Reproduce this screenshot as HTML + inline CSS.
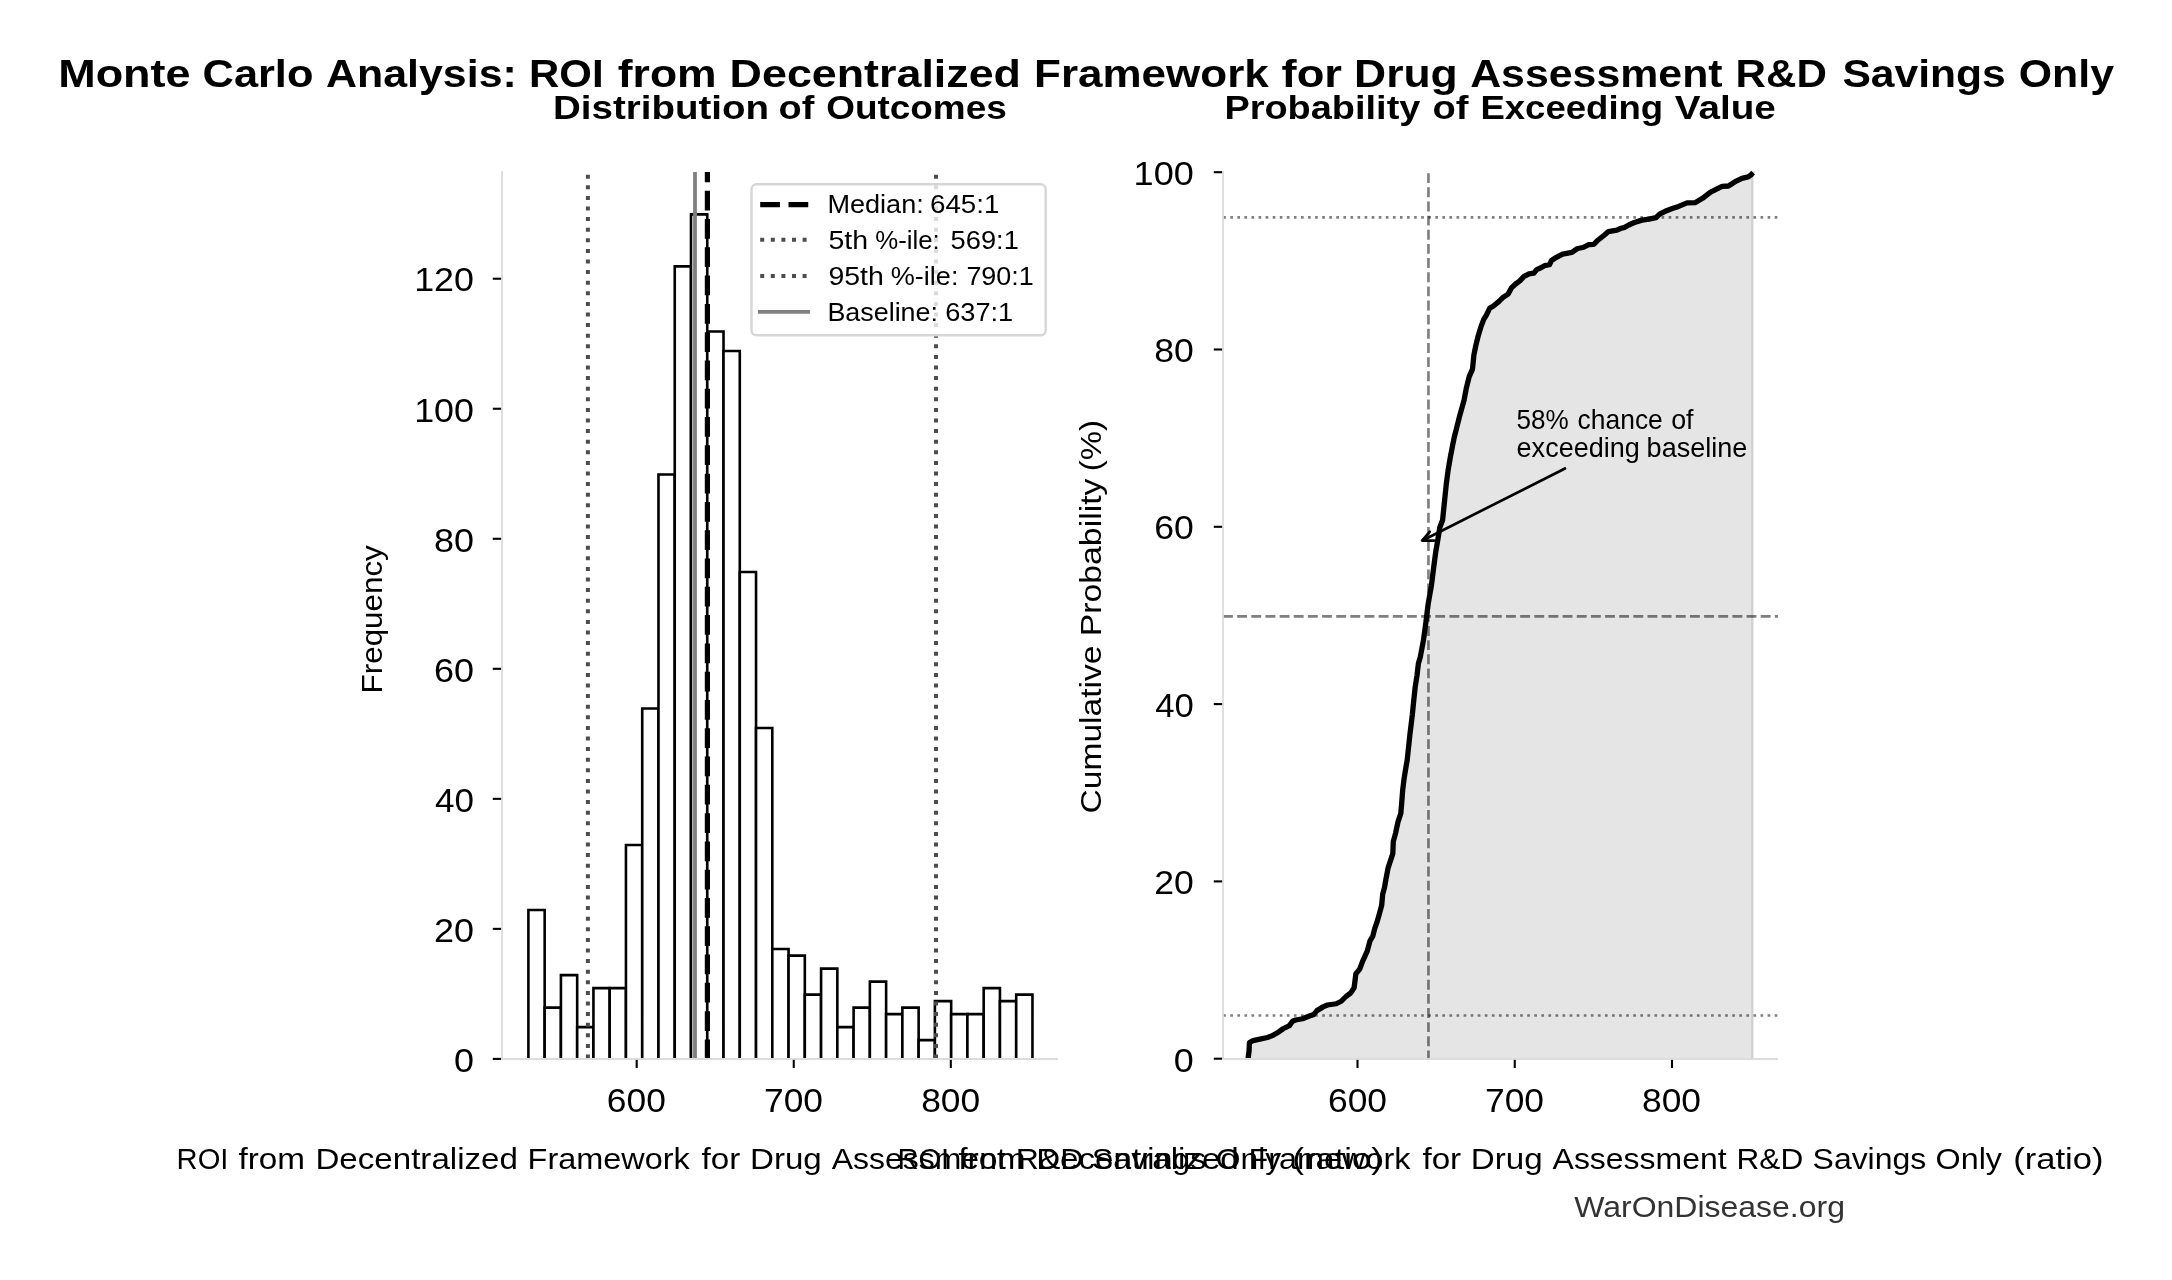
<!DOCTYPE html>
<html><head><meta charset="utf-8"><style>
html,body{margin:0;padding:0;background:#fff;width:2172px;height:1280px;overflow:hidden}
svg{display:block;will-change:transform}
text{font-family:"Liberation Sans",sans-serif}
</style></head><body>
<svg width="2172" height="1280" viewBox="0 0 2172 1280">
<rect width="2172" height="1280" fill="#fff"/>
<defs><clipPath id="cl"><rect x="490" y="150" width="580" height="908.3"/></clipPath><clipPath id="cr"><rect x="1223" y="150" width="560" height="908.3"/></clipPath></defs>
<g clip-path="url(#cl)">
<path d="M528.40,1060 V910.07 H544.66 V1060" fill="#fff" stroke="#000" stroke-width="2.6" stroke-linejoin="miter"/>
<path d="M544.66,1060 V1007.59 H560.92 V1060" fill="#fff" stroke="#000" stroke-width="2.6" stroke-linejoin="miter"/>
<path d="M560.92,1060 V975.08 H577.18 V1060" fill="#fff" stroke="#000" stroke-width="2.6" stroke-linejoin="miter"/>
<path d="M577.18,1060 V1027.09 H593.44 V1060" fill="#fff" stroke="#000" stroke-width="2.6" stroke-linejoin="miter"/>
<path d="M593.44,1060 V988.08 H609.70 V1060" fill="#fff" stroke="#000" stroke-width="2.6" stroke-linejoin="miter"/>
<path d="M609.70,1060 V988.08 H625.96 V1060" fill="#fff" stroke="#000" stroke-width="2.6" stroke-linejoin="miter"/>
<path d="M625.96,1060 V845.05 H642.22 V1060" fill="#fff" stroke="#000" stroke-width="2.6" stroke-linejoin="miter"/>
<path d="M642.22,1060 V708.52 H658.48 V1060" fill="#fff" stroke="#000" stroke-width="2.6" stroke-linejoin="miter"/>
<path d="M658.48,1060 V474.46 H674.74 V1060" fill="#fff" stroke="#000" stroke-width="2.6" stroke-linejoin="miter"/>
<path d="M674.74,1060 V266.42 H691.00 V1060" fill="#fff" stroke="#000" stroke-width="2.6" stroke-linejoin="miter"/>
<path d="M691.00,1060 V214.40 H707.26 V1060" fill="#fff" stroke="#000" stroke-width="2.6" stroke-linejoin="miter"/>
<path d="M707.26,1060 V331.43 H723.52 V1060" fill="#fff" stroke="#000" stroke-width="2.6" stroke-linejoin="miter"/>
<path d="M723.52,1060 V350.94 H739.78 V1060" fill="#fff" stroke="#000" stroke-width="2.6" stroke-linejoin="miter"/>
<path d="M739.78,1060 V571.99 H756.04 V1060" fill="#fff" stroke="#000" stroke-width="2.6" stroke-linejoin="miter"/>
<path d="M756.04,1060 V728.02 H772.30 V1060" fill="#fff" stroke="#000" stroke-width="2.6" stroke-linejoin="miter"/>
<path d="M772.30,1060 V949.07 H788.56 V1060" fill="#fff" stroke="#000" stroke-width="2.6" stroke-linejoin="miter"/>
<path d="M788.56,1060 V955.58 H804.82 V1060" fill="#fff" stroke="#000" stroke-width="2.6" stroke-linejoin="miter"/>
<path d="M804.82,1060 V994.58 H821.08 V1060" fill="#fff" stroke="#000" stroke-width="2.6" stroke-linejoin="miter"/>
<path d="M821.08,1060 V968.58 H837.34 V1060" fill="#fff" stroke="#000" stroke-width="2.6" stroke-linejoin="miter"/>
<path d="M837.34,1060 V1027.09 H853.60 V1060" fill="#fff" stroke="#000" stroke-width="2.6" stroke-linejoin="miter"/>
<path d="M853.60,1060 V1007.59 H869.86 V1060" fill="#fff" stroke="#000" stroke-width="2.6" stroke-linejoin="miter"/>
<path d="M869.86,1060 V981.58 H886.12 V1060" fill="#fff" stroke="#000" stroke-width="2.6" stroke-linejoin="miter"/>
<path d="M886.12,1060 V1014.09 H902.38 V1060" fill="#fff" stroke="#000" stroke-width="2.6" stroke-linejoin="miter"/>
<path d="M902.38,1060 V1007.59 H918.64 V1060" fill="#fff" stroke="#000" stroke-width="2.6" stroke-linejoin="miter"/>
<path d="M918.64,1060 V1040.10 H934.90 V1060" fill="#fff" stroke="#000" stroke-width="2.6" stroke-linejoin="miter"/>
<path d="M934.90,1060 V1001.09 H951.16 V1060" fill="#fff" stroke="#000" stroke-width="2.6" stroke-linejoin="miter"/>
<path d="M951.16,1060 V1014.09 H967.42 V1060" fill="#fff" stroke="#000" stroke-width="2.6" stroke-linejoin="miter"/>
<path d="M967.42,1060 V1014.09 H983.68 V1060" fill="#fff" stroke="#000" stroke-width="2.6" stroke-linejoin="miter"/>
<path d="M983.68,1060 V988.08 H999.94 V1060" fill="#fff" stroke="#000" stroke-width="2.6" stroke-linejoin="miter"/>
<path d="M999.94,1060 V1001.09 H1016.20 V1060" fill="#fff" stroke="#000" stroke-width="2.6" stroke-linejoin="miter"/>
<path d="M1016.20,1060 V994.58 H1032.46 V1060" fill="#fff" stroke="#000" stroke-width="2.6" stroke-linejoin="miter"/>
<line x1="587.9" y1="1058.5" x2="587.9" y2="172" stroke="#4d4d4d" stroke-width="4.0" stroke-dasharray="4.0 6.6"/>
<line x1="936.0" y1="1058.5" x2="936.0" y2="172" stroke="#4d4d4d" stroke-width="4.0" stroke-dasharray="4.0 6.6"/>
<line x1="695.0" y1="1060" x2="695.0" y2="172" stroke="#808080" stroke-width="3.8"/>
<line x1="707.4" y1="1059.2" x2="707.4" y2="172" stroke="#000" stroke-width="5.2" stroke-dasharray="19.75 8.54"/>
</g>
<line x1="502.0" y1="171.0" x2="502.0" y2="1059.0" stroke="#dcdcdc" stroke-width="1.8"/>
<line x1="502.0" y1="1059.0" x2="1058.0" y2="1059.0" stroke="#dcdcdc" stroke-width="1.8"/>
<line x1="492.8" y1="1058.90" x2="501.1" y2="1058.90" stroke="#000" stroke-width="2.1"/>
<line x1="492.8" y1="928.87" x2="501.1" y2="928.87" stroke="#000" stroke-width="2.1"/>
<line x1="492.8" y1="798.84" x2="501.1" y2="798.84" stroke="#000" stroke-width="2.1"/>
<line x1="492.8" y1="668.81" x2="501.1" y2="668.81" stroke="#000" stroke-width="2.1"/>
<line x1="492.8" y1="538.78" x2="501.1" y2="538.78" stroke="#000" stroke-width="2.1"/>
<line x1="492.8" y1="408.75" x2="501.1" y2="408.75" stroke="#000" stroke-width="2.1"/>
<line x1="492.8" y1="278.72" x2="501.1" y2="278.72" stroke="#000" stroke-width="2.1"/>
<line x1="636.70" y1="1059.9" x2="636.70" y2="1068.0" stroke="#000" stroke-width="2.1"/>
<line x1="793.75" y1="1059.9" x2="793.75" y2="1068.0" stroke="#000" stroke-width="2.1"/>
<line x1="950.80" y1="1059.9" x2="950.80" y2="1068.0" stroke="#000" stroke-width="2.1"/>
<rect x="751.5" y="184.3" width="294.2" height="151" rx="5" ry="5" fill="#fff" fill-opacity="0.8" stroke="#d6d6d6" stroke-width="2.4"/>
<line x1="760.2" y1="204.6" x2="808.8" y2="204.6" stroke="#000" stroke-width="5.3" stroke-dasharray="19.75 8.54"/>
<line x1="760.2" y1="239.7" x2="808.8" y2="239.7" stroke="#4d4d4d" stroke-width="4.0" stroke-dasharray="4.0 6.6"/>
<line x1="760.2" y1="276" x2="808.8" y2="276" stroke="#4d4d4d" stroke-width="4.0" stroke-dasharray="4.0 6.6"/>
<line x1="758" y1="311.9" x2="810" y2="311.9" stroke="#808080" stroke-width="3.8"/>
<g clip-path="url(#cr)">
<polygon points="1248.10,1058.60 1249.10,1050.60 1249.40,1042.50 1253.10,1040.60 1258.75,1039.40 1267.50,1037.50 1273.10,1035.30 1278.75,1031.90 1283.10,1028.75 1289.40,1025.60 1292.50,1021.25 1295.60,1020.00 1302.50,1018.75 1308.75,1016.25 1313.75,1014.40 1316.90,1010.60 1323.10,1006.90 1327.50,1005.00 1336.25,1003.75 1341.25,1001.25 1346.25,996.25 1350.60,993.10 1354.10,987.80 1355.90,973.70 1359.70,969.10 1362.50,961.60 1367.20,951.20 1370.00,940.90 1372.80,936.20 1374.70,928.70 1377.00,922.20 1379.40,913.70 1381.70,905.30 1382.70,894.10 1384.50,887.50 1385.80,880.00 1388.10,867.80 1392.80,853.70 1393.30,841.60 1395.60,833.10 1398.00,821.90 1400.80,813.40 1401.70,803.10 1402.70,790.00 1404.10,778.70 1405.90,767.50 1407.20,760.00 1410.00,733.70 1412.30,715.00 1413.70,700.90 1415.20,686.90 1417.00,675.60 1418.40,663.40 1420.30,656.90 1423.50,640.00 1425.80,623.10 1428.10,604.40 1431.40,585.60 1433.75,566.90 1435.60,552.80 1438.00,538.75 1439.80,527.50 1442.60,520.00 1444.80,498.40 1446.25,484.40 1448.10,470.30 1450.50,456.25 1452.30,446.90 1454.20,437.50 1456.60,428.10 1459.40,416.90 1464.10,400.00 1466.40,387.80 1469.20,376.60 1472.50,369.10 1473.90,355.00 1475.80,345.60 1478.10,336.25 1480.90,326.90 1483.75,319.40 1486.10,315.60 1489.80,308.10 1493.10,306.25 1498.75,301.60 1502.50,297.80 1508.10,294.10 1511.40,287.90 1515.60,284.00 1519.80,280.90 1524.10,276.30 1529.00,273.80 1533.90,273.10 1536.70,269.60 1540.90,267.80 1544.50,265.70 1549.40,264.70 1551.50,260.50 1556.40,257.30 1562.70,254.10 1571.90,252.40 1577.50,248.50 1583.10,247.50 1588.70,244.60 1593.70,244.30 1597.20,240.80 1604.20,235.20 1608.40,231.60 1616.90,230.20 1620.40,228.50 1624.60,227.40 1628.80,225.00 1634.40,222.50 1642.00,220.10 1649.10,219.10 1656.10,217.65 1659.60,214.10 1665.20,211.30 1672.30,208.50 1678.60,206.40 1687.00,202.90 1695.50,202.60 1702.50,198.30 1710.20,192.30 1716.60,189.20 1722.20,186.40 1728.50,186.00 1736.20,181.10 1741.90,178.30 1748.20,176.90 1751.00,174.80 1753.10,172.70 1752.3,172.7 1752.3,1060 1248.1,1060" fill="#e5e5e5" stroke="#d1d1d1" stroke-width="2.3"/>
<line x1="1223.2" y1="1015.5" x2="1778.0" y2="1015.5" stroke="#000" stroke-opacity="0.5" stroke-width="2.67" stroke-dasharray="2.67 4.40"/>
<line x1="1223.2" y1="217.45" x2="1778.0" y2="217.45" stroke="#000" stroke-opacity="0.5" stroke-width="2.67" stroke-dasharray="2.67 4.40"/>
<line x1="1223.0" y1="616.45" x2="1778.0" y2="616.45" stroke="#000" stroke-opacity="0.5" stroke-width="2.67" stroke-dasharray="9.88 4.27"/>
<line x1="1428.45" y1="1060.4" x2="1428.45" y2="171.5" stroke="#000" stroke-opacity="0.5" stroke-width="2.67" stroke-dasharray="9.88 4.27"/>
<polyline points="1248.0,1062 1248.10,1058.60 1249.10,1050.60 1249.40,1042.50 1253.10,1040.60 1258.75,1039.40 1267.50,1037.50 1273.10,1035.30 1278.75,1031.90 1283.10,1028.75 1289.40,1025.60 1292.50,1021.25 1295.60,1020.00 1302.50,1018.75 1308.75,1016.25 1313.75,1014.40 1316.90,1010.60 1323.10,1006.90 1327.50,1005.00 1336.25,1003.75 1341.25,1001.25 1346.25,996.25 1350.60,993.10 1354.10,987.80 1355.90,973.70 1359.70,969.10 1362.50,961.60 1367.20,951.20 1370.00,940.90 1372.80,936.20 1374.70,928.70 1377.00,922.20 1379.40,913.70 1381.70,905.30 1382.70,894.10 1384.50,887.50 1385.80,880.00 1388.10,867.80 1392.80,853.70 1393.30,841.60 1395.60,833.10 1398.00,821.90 1400.80,813.40 1401.70,803.10 1402.70,790.00 1404.10,778.70 1405.90,767.50 1407.20,760.00 1410.00,733.70 1412.30,715.00 1413.70,700.90 1415.20,686.90 1417.00,675.60 1418.40,663.40 1420.30,656.90 1423.50,640.00 1425.80,623.10 1428.10,604.40 1431.40,585.60 1433.75,566.90 1435.60,552.80 1438.00,538.75 1439.80,527.50 1442.60,520.00 1444.80,498.40 1446.25,484.40 1448.10,470.30 1450.50,456.25 1452.30,446.90 1454.20,437.50 1456.60,428.10 1459.40,416.90 1464.10,400.00 1466.40,387.80 1469.20,376.60 1472.50,369.10 1473.90,355.00 1475.80,345.60 1478.10,336.25 1480.90,326.90 1483.75,319.40 1486.10,315.60 1489.80,308.10 1493.10,306.25 1498.75,301.60 1502.50,297.80 1508.10,294.10 1511.40,287.90 1515.60,284.00 1519.80,280.90 1524.10,276.30 1529.00,273.80 1533.90,273.10 1536.70,269.60 1540.90,267.80 1544.50,265.70 1549.40,264.70 1551.50,260.50 1556.40,257.30 1562.70,254.10 1571.90,252.40 1577.50,248.50 1583.10,247.50 1588.70,244.60 1593.70,244.30 1597.20,240.80 1604.20,235.20 1608.40,231.60 1616.90,230.20 1620.40,228.50 1624.60,227.40 1628.80,225.00 1634.40,222.50 1642.00,220.10 1649.10,219.10 1656.10,217.65 1659.60,214.10 1665.20,211.30 1672.30,208.50 1678.60,206.40 1687.00,202.90 1695.50,202.60 1702.50,198.30 1710.20,192.30 1716.60,189.20 1722.20,186.40 1728.50,186.00 1736.20,181.10 1741.90,178.30 1748.20,176.90 1751.00,174.80 1753.10,172.70" fill="none" stroke="#000" stroke-width="5.3" stroke-linejoin="round" stroke-linecap="butt"/>
</g>
<line x1="1223.0" y1="171.5" x2="1223.0" y2="1059.0" stroke="#dcdcdc" stroke-width="1.8"/>
<line x1="1223.0" y1="1059.0" x2="1778.0" y2="1059.0" stroke="#dcdcdc" stroke-width="1.8"/>
<line x1="1213.8" y1="1058.70" x2="1222.1" y2="1058.70" stroke="#000" stroke-width="2.1"/>
<line x1="1213.8" y1="881.40" x2="1222.1" y2="881.40" stroke="#000" stroke-width="2.1"/>
<line x1="1213.8" y1="704.10" x2="1222.1" y2="704.10" stroke="#000" stroke-width="2.1"/>
<line x1="1213.8" y1="526.80" x2="1222.1" y2="526.80" stroke="#000" stroke-width="2.1"/>
<line x1="1213.8" y1="349.50" x2="1222.1" y2="349.50" stroke="#000" stroke-width="2.1"/>
<line x1="1213.8" y1="172.20" x2="1222.1" y2="172.20" stroke="#000" stroke-width="2.1"/>
<line x1="1357.50" y1="1059.9" x2="1357.50" y2="1068.0" stroke="#000" stroke-width="2.1"/>
<line x1="1514.75" y1="1059.9" x2="1514.75" y2="1068.0" stroke="#000" stroke-width="2.1"/>
<line x1="1672.00" y1="1059.9" x2="1672.00" y2="1068.0" stroke="#000" stroke-width="2.1"/>
<line x1="1565" y1="468.5" x2="1423" y2="540.2" stroke="#000" stroke-width="2.67" stroke-linecap="round"/>
<polyline points="1429.8,531.7 1422.1,540.6 1434.2,540.6" fill="none" stroke="#000" stroke-width="2.67" stroke-linecap="round" stroke-linejoin="round"/>
<text x="58.2" y="86.9" font-size="39.2" font-weight="bold" fill="#000" textLength="132.4" lengthAdjust="spacingAndGlyphs">Monte</text>
<text x="202.6" y="86.9" font-size="39.2" font-weight="bold" fill="#000" textLength="110.8" lengthAdjust="spacingAndGlyphs">Carlo</text>
<text x="326.0" y="86.9" font-size="39.2" font-weight="bold" fill="#000" textLength="190.8" lengthAdjust="spacingAndGlyphs">Analysis:</text>
<text x="529.0" y="86.9" font-size="39.2" font-weight="bold" fill="#000" textLength="74.6" lengthAdjust="spacingAndGlyphs">ROI</text>
<text x="617.8" y="86.9" font-size="39.2" font-weight="bold" fill="#000" textLength="98.8" lengthAdjust="spacingAndGlyphs">from</text>
<text x="729.6" y="86.9" font-size="39.2" font-weight="bold" fill="#000" textLength="291.4" lengthAdjust="spacingAndGlyphs">Decentralized</text>
<text x="1034.0" y="86.9" font-size="39.2" font-weight="bold" fill="#000" textLength="234.8" lengthAdjust="spacingAndGlyphs">Framework</text>
<text x="1281.6" y="86.9" font-size="39.2" font-weight="bold" fill="#000" textLength="60.4" lengthAdjust="spacingAndGlyphs">for</text>
<text x="1354.0" y="86.9" font-size="39.2" font-weight="bold" fill="#000" textLength="103.8" lengthAdjust="spacingAndGlyphs">Drug</text>
<text x="1470.2" y="86.9" font-size="39.2" font-weight="bold" fill="#000" textLength="252.4" lengthAdjust="spacingAndGlyphs">Assessment</text>
<text x="1735.6" y="86.9" font-size="39.2" font-weight="bold" fill="#000" textLength="91.4" lengthAdjust="spacingAndGlyphs">R&amp;D</text>
<text x="1842.4" y="86.9" font-size="39.2" font-weight="bold" fill="#000" textLength="163.4" lengthAdjust="spacingAndGlyphs">Savings</text>
<text x="2018.8" y="86.9" font-size="39.2" font-weight="bold" fill="#000" textLength="95.2" lengthAdjust="spacingAndGlyphs">Only</text>
<text x="553.0" y="119.3" font-size="32.7" font-weight="bold" fill="#000" textLength="216.0" lengthAdjust="spacingAndGlyphs">Distribution</text>
<text x="778.6" y="119.3" font-size="32.7" font-weight="bold" fill="#000" textLength="35.8" lengthAdjust="spacingAndGlyphs">of</text>
<text x="826.2" y="119.3" font-size="32.7" font-weight="bold" fill="#000" textLength="180.6" lengthAdjust="spacingAndGlyphs">Outcomes</text>
<text x="1224.4" y="119.2" font-size="32.7" font-weight="bold" fill="#000" textLength="196.0" lengthAdjust="spacingAndGlyphs">Probability</text>
<text x="1432.4" y="119.2" font-size="32.7" font-weight="bold" fill="#000" textLength="36.0" lengthAdjust="spacingAndGlyphs">of</text>
<text x="1480.4" y="119.2" font-size="32.7" font-weight="bold" fill="#000" textLength="182.8" lengthAdjust="spacingAndGlyphs">Exceeding</text>
<text x="1674.8" y="119.2" font-size="32.7" font-weight="bold" fill="#000" textLength="101.0" lengthAdjust="spacingAndGlyphs">Value</text>
<text x="454.0" y="1071.7" font-size="32.4" font-weight="normal" fill="#000" textLength="20.0" lengthAdjust="spacingAndGlyphs">0</text>
<text x="434.0" y="941.6600000000001" font-size="32.4" font-weight="normal" fill="#000" textLength="40.0" lengthAdjust="spacingAndGlyphs">20</text>
<text x="435.0" y="811.6200000000001" font-size="32.4" font-weight="normal" fill="#000" textLength="39.0" lengthAdjust="spacingAndGlyphs">40</text>
<text x="434.0" y="681.58" font-size="32.4" font-weight="normal" fill="#000" textLength="40.0" lengthAdjust="spacingAndGlyphs">60</text>
<text x="434.0" y="551.5400000000001" font-size="32.4" font-weight="normal" fill="#000" textLength="40.0" lengthAdjust="spacingAndGlyphs">80</text>
<text x="414.2" y="421.50000000000017" font-size="32.4" font-weight="normal" fill="#000" textLength="59.8" lengthAdjust="spacingAndGlyphs">100</text>
<text x="414.2" y="291.4600000000001" font-size="32.4" font-weight="normal" fill="#000" textLength="59.8" lengthAdjust="spacingAndGlyphs">120</text>
<text x="1173.8" y="1071.55" font-size="32.4" font-weight="normal" fill="#000" textLength="20.0" lengthAdjust="spacingAndGlyphs">0</text>
<text x="1154.2" y="894.15" font-size="32.4" font-weight="normal" fill="#000" textLength="39.6" lengthAdjust="spacingAndGlyphs">20</text>
<text x="1155.2" y="716.75" font-size="32.4" font-weight="normal" fill="#000" textLength="38.6" lengthAdjust="spacingAndGlyphs">40</text>
<text x="1154.2" y="539.35" font-size="32.4" font-weight="normal" fill="#000" textLength="39.6" lengthAdjust="spacingAndGlyphs">60</text>
<text x="1154.2" y="361.9500000000001" font-size="32.4" font-weight="normal" fill="#000" textLength="39.6" lengthAdjust="spacingAndGlyphs">80</text>
<text x="1133.6" y="184.55000000000013" font-size="32.4" font-weight="normal" fill="#000" textLength="60.2" lengthAdjust="spacingAndGlyphs">100</text>
<text x="606.8" y="1111.8" font-size="32.4" font-weight="normal" fill="#000" textLength="59.0" lengthAdjust="spacingAndGlyphs">600</text>
<text x="764.0" y="1111.8" font-size="32.4" font-weight="normal" fill="#000" textLength="59.0" lengthAdjust="spacingAndGlyphs">700</text>
<text x="921.2" y="1111.8" font-size="32.4" font-weight="normal" fill="#000" textLength="59.0" lengthAdjust="spacingAndGlyphs">800</text>
<text x="1328.0" y="1111.8" font-size="32.4" font-weight="normal" fill="#000" textLength="59.0" lengthAdjust="spacingAndGlyphs">600</text>
<text x="1485.0" y="1111.8" font-size="32.4" font-weight="normal" fill="#000" textLength="59.0" lengthAdjust="spacingAndGlyphs">700</text>
<text x="1642.0" y="1111.8" font-size="32.4" font-weight="normal" fill="#000" textLength="59.0" lengthAdjust="spacingAndGlyphs">800</text>
<text x="827.4" y="213.2" font-size="26.5" font-weight="normal" fill="#000" textLength="96.4" lengthAdjust="spacingAndGlyphs">Median:</text>
<text x="930.0" y="213.2" font-size="26.5" font-weight="normal" fill="#000" textLength="69.4" lengthAdjust="spacingAndGlyphs">645:1</text>
<text x="828.4" y="249.1" font-size="26.5" font-weight="normal" fill="#000" textLength="39.6" lengthAdjust="spacingAndGlyphs">5th</text>
<text x="875.2" y="249.1" font-size="26.5" font-weight="normal" fill="#000" textLength="64.6" lengthAdjust="spacingAndGlyphs">%-ile:</text>
<text x="950.6" y="249.1" font-size="26.5" font-weight="normal" fill="#000" textLength="68.2" lengthAdjust="spacingAndGlyphs">569:1</text>
<text x="828.4" y="284.9" font-size="26.5" font-weight="normal" fill="#000" textLength="55.4" lengthAdjust="spacingAndGlyphs">95th</text>
<text x="890.8" y="284.9" font-size="26.5" font-weight="normal" fill="#000" textLength="67.6" lengthAdjust="spacingAndGlyphs">%-ile:</text>
<text x="966.4" y="284.9" font-size="26.5" font-weight="normal" fill="#000" textLength="67.4" lengthAdjust="spacingAndGlyphs">790:1</text>
<text x="827.4" y="321.0" font-size="26.5" font-weight="normal" fill="#000" textLength="110.6" lengthAdjust="spacingAndGlyphs">Baseline:</text>
<text x="945.2" y="321.0" font-size="26.5" font-weight="normal" fill="#000" textLength="68.0" lengthAdjust="spacingAndGlyphs">637:1</text>
<text x="1516.6" y="429.1" font-size="26.9" font-weight="normal" fill="#000" textLength="52.2" lengthAdjust="spacingAndGlyphs">58%</text>
<text x="1577.6" y="429.1" font-size="26.9" font-weight="normal" fill="#000" textLength="85.2" lengthAdjust="spacingAndGlyphs">chance</text>
<text x="1671.2" y="429.1" font-size="26.9" font-weight="normal" fill="#000" textLength="22.4" lengthAdjust="spacingAndGlyphs">of</text>
<text x="1516.6" y="456.6" font-size="26.9" font-weight="normal" fill="#000" textLength="123.2" lengthAdjust="spacingAndGlyphs">exceeding</text>
<text x="1646.6" y="456.6" font-size="26.9" font-weight="normal" fill="#000" textLength="100.8" lengthAdjust="spacingAndGlyphs">baseline</text>
<text x="176.6" y="1168.5" font-size="30.4" font-weight="normal" fill="#000" textLength="51.8" lengthAdjust="spacingAndGlyphs">ROI</text>
<text x="238.4" y="1168.5" font-size="30.4" font-weight="normal" fill="#000" textLength="66.6" lengthAdjust="spacingAndGlyphs">from</text>
<text x="315.4" y="1168.5" font-size="30.4" font-weight="normal" fill="#000" textLength="202.6" lengthAdjust="spacingAndGlyphs">Decentralized</text>
<text x="527.6" y="1168.5" font-size="30.4" font-weight="normal" fill="#000" textLength="162.2" lengthAdjust="spacingAndGlyphs">Framework</text>
<text x="701.6" y="1168.5" font-size="30.4" font-weight="normal" fill="#000" textLength="38.8" lengthAdjust="spacingAndGlyphs">for</text>
<text x="750.0" y="1168.5" font-size="30.4" font-weight="normal" fill="#000" textLength="71.8" lengthAdjust="spacingAndGlyphs">Drug</text>
<text x="831.8" y="1168.5" font-size="30.4" font-weight="normal" fill="#000" textLength="174.0" lengthAdjust="spacingAndGlyphs">Assessment</text>
<text x="1015.8" y="1168.5" font-size="30.4" font-weight="normal" fill="#000" textLength="67.6" lengthAdjust="spacingAndGlyphs">R&amp;D</text>
<text x="1091.8" y="1168.5" font-size="30.4" font-weight="normal" fill="#000" textLength="114.6" lengthAdjust="spacingAndGlyphs">Savings</text>
<text x="1215.8" y="1168.5" font-size="30.4" font-weight="normal" fill="#000" textLength="65.4" lengthAdjust="spacingAndGlyphs">Only</text>
<text x="1292.4" y="1168.5" font-size="30.4" font-weight="normal" fill="#000" textLength="90.4" lengthAdjust="spacingAndGlyphs">(ratio)</text>
<text x="897.4" y="1168.5" font-size="30.4" font-weight="normal" fill="#000" textLength="51.8" lengthAdjust="spacingAndGlyphs">ROI</text>
<text x="958.2" y="1168.5" font-size="30.4" font-weight="normal" fill="#000" textLength="67.6" lengthAdjust="spacingAndGlyphs">from</text>
<text x="1036.2" y="1168.5" font-size="30.4" font-weight="normal" fill="#000" textLength="202.6" lengthAdjust="spacingAndGlyphs">Decentralized</text>
<text x="1248.4" y="1168.5" font-size="30.4" font-weight="normal" fill="#000" textLength="162.2" lengthAdjust="spacingAndGlyphs">Framework</text>
<text x="1422.4" y="1168.5" font-size="30.4" font-weight="normal" fill="#000" textLength="38.8" lengthAdjust="spacingAndGlyphs">for</text>
<text x="1470.8" y="1168.5" font-size="30.4" font-weight="normal" fill="#000" textLength="71.8" lengthAdjust="spacingAndGlyphs">Drug</text>
<text x="1552.6" y="1168.5" font-size="30.4" font-weight="normal" fill="#000" textLength="174.0" lengthAdjust="spacingAndGlyphs">Assessment</text>
<text x="1736.6" y="1168.5" font-size="30.4" font-weight="normal" fill="#000" textLength="66.6" lengthAdjust="spacingAndGlyphs">R&amp;D</text>
<text x="1812.6" y="1168.5" font-size="30.4" font-weight="normal" fill="#000" textLength="113.6" lengthAdjust="spacingAndGlyphs">Savings</text>
<text x="1935.6" y="1168.5" font-size="30.4" font-weight="normal" fill="#000" textLength="66.4" lengthAdjust="spacingAndGlyphs">Only</text>
<text x="2013.2" y="1168.5" font-size="30.4" font-weight="normal" fill="#000" textLength="90.4" lengthAdjust="spacingAndGlyphs">(ratio)</text>
<text x="1574.2" y="1216.9" font-size="30.4" font-weight="normal" fill="#333" textLength="270.8" lengthAdjust="spacingAndGlyphs">WarOnDisease.org</text>
<text x="381.9" y="693.4" font-size="30.4" font-weight="normal" fill="#000" textLength="148.2" lengthAdjust="spacingAndGlyphs" transform="rotate(-90 381.9 693.4)">Frequency</text>
<text x="1101.0" y="471.2" font-size="30.4" font-weight="normal" fill="#000" textLength="51.0" lengthAdjust="spacingAndGlyphs" transform="rotate(-90 1101.0 471.2)">(%)</text>
<text x="1101.0" y="636.2" font-size="30.4" font-weight="normal" fill="#000" textLength="157.6" lengthAdjust="spacingAndGlyphs" transform="rotate(-90 1101.0 636.2)">Probability</text>
<text x="1101.0" y="813.4" font-size="30.4" font-weight="normal" fill="#000" textLength="167.8" lengthAdjust="spacingAndGlyphs" transform="rotate(-90 1101.0 813.4)">Cumulative</text>
</svg></body></html>
